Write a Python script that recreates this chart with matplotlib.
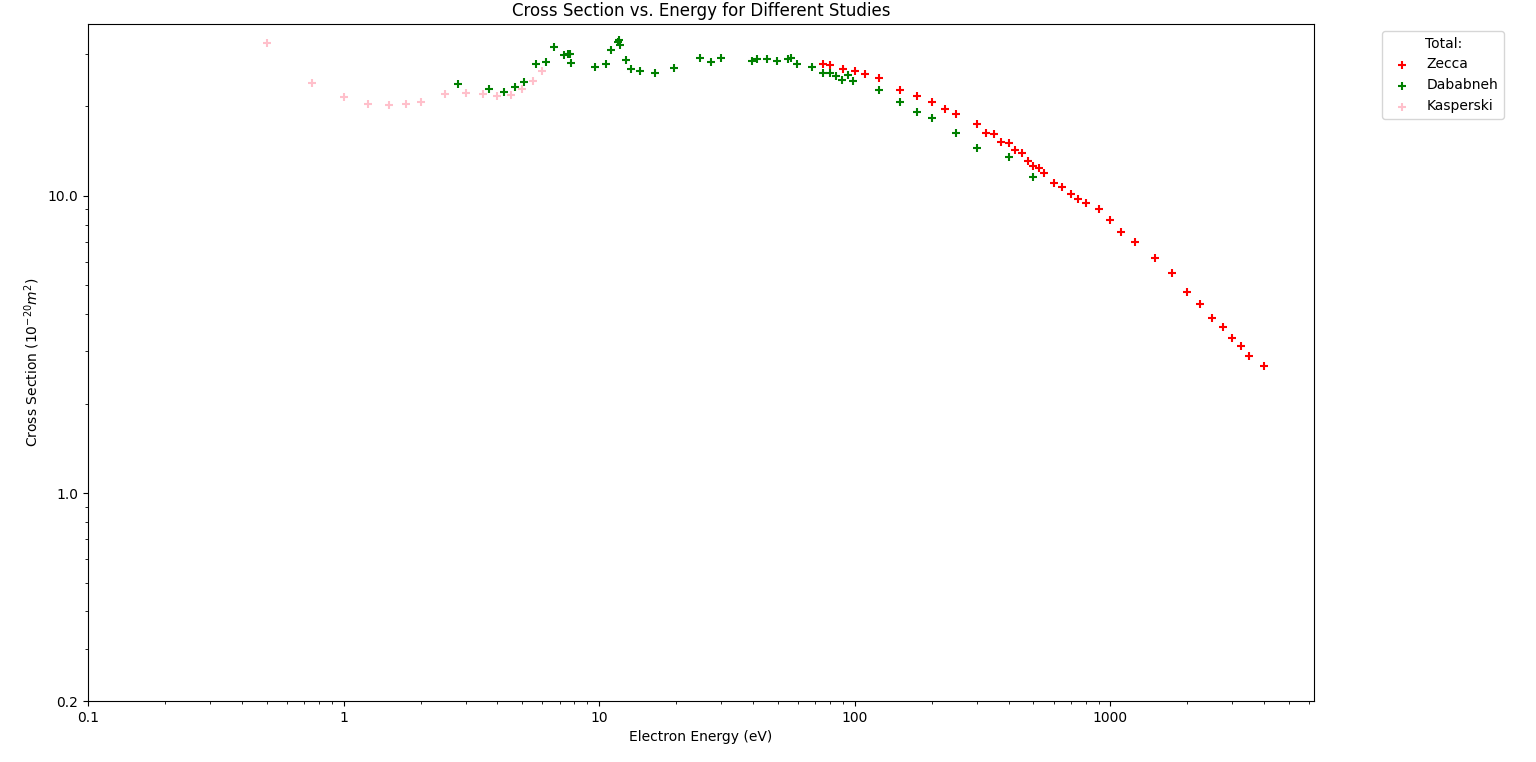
import matplotlib.pyplot as plt

# Zecca (total)
zecca_e = [75, 80, 90, 100, 110, 125, 150, 175, 200, 225, 250, 300, 325, 350, 375, 400,
           425, 450, 475, 500, 525, 550, 600, 650, 700, 750, 800, 900, 1000, 1100, 1250,
           1500, 1750, 2000, 2250, 2500, 2750, 3000, 3250, 3500, 4000]
zecca_cs = [27.7, 27.6, 26.7, 26.2, 25.6, 24.8, 22.6, 21.6, 20.6, 19.6, 18.8, 17.4, 16.3, 16.1,
            15.1, 15.0, 14.2, 13.9, 13.1, 12.6, 12.4, 11.9, 11.0, 10.7, 10.1, 9.72, 9.42, 8.99,
            8.26, 7.52, 6.97, 6.18, 5.51, 4.75, 4.33, 3.89, 3.63, 3.33, 3.13, 2.90, 2.68]

# Dababneh (total)
dabab_e = [2.81, 3.72, 4.23, 4.70, 5.09, 5.68, 6.21, 6.68, 7.26, 7.55, 7.72, 7.78, 9.66, 10.67,
           11.17, 11.8, 11.96, 12.1, 12.7, 13.3, 14.5, 16.5, 19.7, 24.7, 27.3, 30.1, 39.6, 41.6,
           45.5, 49.8, 54.8, 56.5, 59.7, 67.9, 74.8, 79.8, 84.8, 89.5, 94.5, 98.8, 125, 150,
           175, 200, 250, 300, 400, 500]
dabab_cs = [23.7, 22.8, 22.3, 23.2, 24.1, 27.7, 28.1, 31.6, 29.7, 29.9, 29.9, 27.9, 27.1, 27.8,
            30.8, 32.8, 33.3, 32.0, 28.5, 26.6, 26.3, 25.8, 26.8, 29.0, 28.1, 29.0, 28.3, 28.7,
            28.7, 28.3, 28.7, 29.0, 27.8, 27.0, 25.9, 25.8, 25.2, 24.4, 25.4, 24.3, 22.6, 20.6,
            19.1, 18.2, 16.3, 14.5, 13.5, 11.6]

# Kasperski (total)
kasp_e = [0.5, 0.75, 1.0, 1.25, 1.5, 1.75, 2.0, 2.5, 3.0, 3.5, 4.0, 4.5, 5.0, 5.5, 6.0]
kasp_cs = [32.5, 24.0, 21.4, 20.4, 20.1, 20.4, 20.7, 21.9, 22.2, 21.9, 21.6, 21.8, 22.8, 24.3, 26.2]

fig = plt.figure(figsize=(15.36, 7.62), dpi=100)
ax = fig.add_subplot(111)
fig.subplots_adjust(left=0.0573, right=0.8555, top=0.9685, bottom=0.080)

ax.scatter(zecca_e, zecca_cs, marker='+', color='red', label='Zecca')
ax.scatter(dabab_e, dabab_cs, marker='+', color='green', label='Dababneh')
ax.scatter(kasp_e, kasp_cs, marker='+', color='pink', label='Kasperski')

ax.set_xscale('log')
ax.set_yscale('log')
ax.set_xlim(left=0.1)
ax.set_ylim(bottom=0.2)
ax.set_xticks([0.1, 1, 10, 100, 1000])
ax.set_xticklabels(['0.1', '1', '10', '100', '1000'])
ax.set_yticks([0.2, 1.0, 10.0])
ax.set_yticklabels(['0.2', '1.0', '10.0'])

ax.set_xlabel('Electron Energy (eV)')
ax.set_ylabel(r'Cross Section ($10^{-20}m^2$)')
ax.set_title('Cross Section vs. Energy for Different Studies')
ax.legend(title='Total:', bbox_to_anchor=(1.05, 1), loc='upper left')

fig.savefig('out.png', dpi=100)
